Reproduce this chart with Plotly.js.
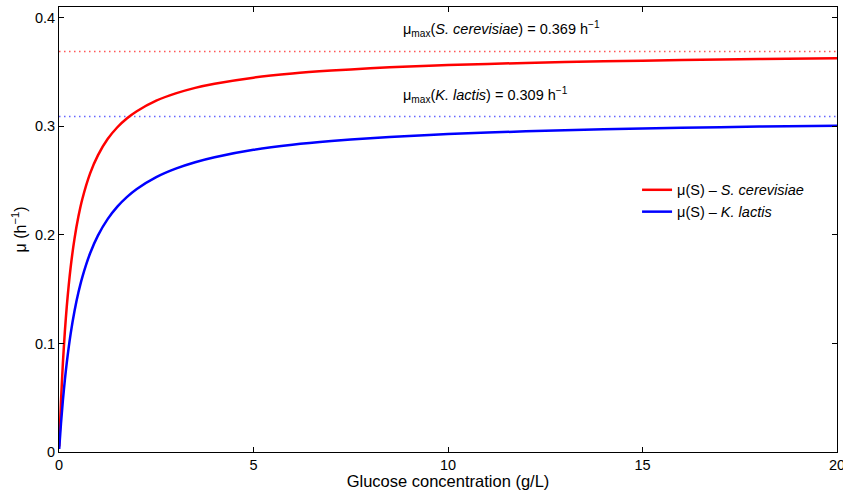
<!DOCTYPE html>
<html>
<head>
<meta charset="utf-8">
<script src="https://cdn.plot.ly/plotly-3.0.1.min.js"></script>
<style>html,body{margin:0;padding:0;background:#fff;}#chart{width:843px;height:490px;}</style>
</head>
<body>
<div id="chart"></div>
<script>
// Glucose concentration (g/L) sample points
const glucose = [0.005, 0.05, 0.1, 0.15, 0.2, 0.3, 0.4, 0.5, 0.6, 0.8, 1.0, 1.25, 1.5, 1.75, 2, 2.5, 3, 3.5, 4, 5, 6, 7, 8, 9, 10, 12, 14, 16, 18, 20];
// μ(S) – S. cerevisiae (h^-1)
const muCerevisiae = [0.0052, 0.0461, 0.0820, 0.1107, 0.1342, 0.1703, 0.1968, 0.2171, 0.2331, 0.2567, 0.2733, 0.2883, 0.2992, 0.3075, 0.3140, 0.3237, 0.3304, 0.3355, 0.3393, 0.3449, 0.3487, 0.3514, 0.3535, 0.3552, 0.3565, 0.3585, 0.3600, 0.3611, 0.3620, 0.3627];
// μ(S) – K. lactis (h^-1)
const muLactis = [0.0028, 0.0258, 0.0475, 0.0662, 0.0824, 0.1091, 0.1301, 0.1471, 0.1612, 0.1831, 0.1994, 0.2146, 0.2261, 0.2351, 0.2424, 0.2533, 0.2611, 0.2670, 0.2716, 0.2784, 0.2831, 0.2865, 0.2891, 0.2912, 0.2929, 0.2955, 0.2973, 0.2987, 0.2998, 0.3007];
// μmax reference lines
const muMaxCerevisiae = 0.369;
const muMaxLactis = 0.309;
const xSpan = [0, 20];
const xTicks = [0, 5, 10, 15, 20];
const yTicks = [0, 0.1, 0.2, 0.3, 0.4];
const labelCerevisiae = "μ(S) – <i>S. cerevisiae</i>";
const labelLactis = "μ(S) – <i>K. lactis</i>";
const annotCerevisiae = "μ<sub>max</sub>(<i>S. cerevisiae</i>) = 0.369 h<sup>−1</sup>";
const annotLactis = "μ<sub>max</sub>(<i>K. lactis</i>) = 0.309 h<sup>−1</sup>";
const annotX = 8.8;

const font = "Liberation Sans, Arial, Helvetica, sans-serif";

const traces = [
  {x: xSpan, y: [muMaxCerevisiae, muMaxCerevisiae], mode: 'lines', showlegend: false, hoverinfo: 'skip',
   line: {color: 'rgb(255,85,85)', width: 1.5, dash: '1.5px,3.5px'}},
  {x: xSpan, y: [muMaxLactis, muMaxLactis], mode: 'lines', showlegend: false, hoverinfo: 'skip',
   line: {color: 'rgb(100,100,255)', width: 1.5, dash: '1.5px,3.5px'}},
  {x: glucose, y: muCerevisiae, mode: 'lines', name: labelCerevisiae,
   line: {color: '#ff0000', width: 2.5, shape: 'spline', smoothing: 0.6}},
  {x: glucose, y: muLactis, mode: 'lines', name: labelLactis,
   line: {color: '#0000ff', width: 2.5, shape: 'spline', smoothing: 0.6}}
];

const axisCommon = {
  showline: true, linecolor: '#000', linewidth: 1, mirror: 'ticks',
  ticks: 'inside', ticklen: 5, tickcolor: '#000', showgrid: false, zeroline: false,
  ticklabeloverflow: 'allow',
  tickfont: {family: font, size: 14.5, color: '#000'}
};

const layout = {
  width: 843, height: 490,
  margin: {l: 59, r: 6, t: 7, b: 38},
  paper_bgcolor: '#fff', plot_bgcolor: '#fff',
  font: {family: font, size: 14.5, color: '#000'},
  xaxis: Object.assign({}, axisCommon, {
    range: [0, 20], tickvals: xTicks, ticktext: xTicks.map(String),
    title: {text: 'Glucose concentration (g/L)', font: {family: font, size: 16.5, color: '#000'}, standoff: 0}
  }),
  yaxis: Object.assign({}, axisCommon, {
    range: [0, 0.41], tickvals: yTicks, ticktext: yTicks.map(String),
    title: {text: 'μ (h<sup>−1</sup>)', font: {family: font, size: 16, color: '#000'}, standoff: 4}
  }),
  legend: {x: 0.743, y: 0.625, xanchor: 'left', yanchor: 'top', bgcolor: 'rgba(255,255,255,0)',
           borderwidth: 0, font: {family: font, size: 14.5, color: '#000'}, tracegroupgap: 0},
  annotations: [
    {x: annotX, y: muMaxCerevisiae, xref: 'x', yref: 'y', text: annotCerevisiae, showarrow: false,
     xanchor: 'left', yanchor: 'bottom', yshift: 10, font: {family: font, size: 14.5, color: '#000'}},
    {x: annotX, y: muMaxLactis, xref: 'x', yref: 'y', text: annotLactis, showarrow: false,
     xanchor: 'left', yanchor: 'bottom', yshift: 10, font: {family: font, size: 14.5, color: '#000'}}
  ],
  showlegend: true
};

Plotly.newPlot('chart', traces, layout, {displayModeBar: false, staticPlot: true});
</script>
</body>
</html>
